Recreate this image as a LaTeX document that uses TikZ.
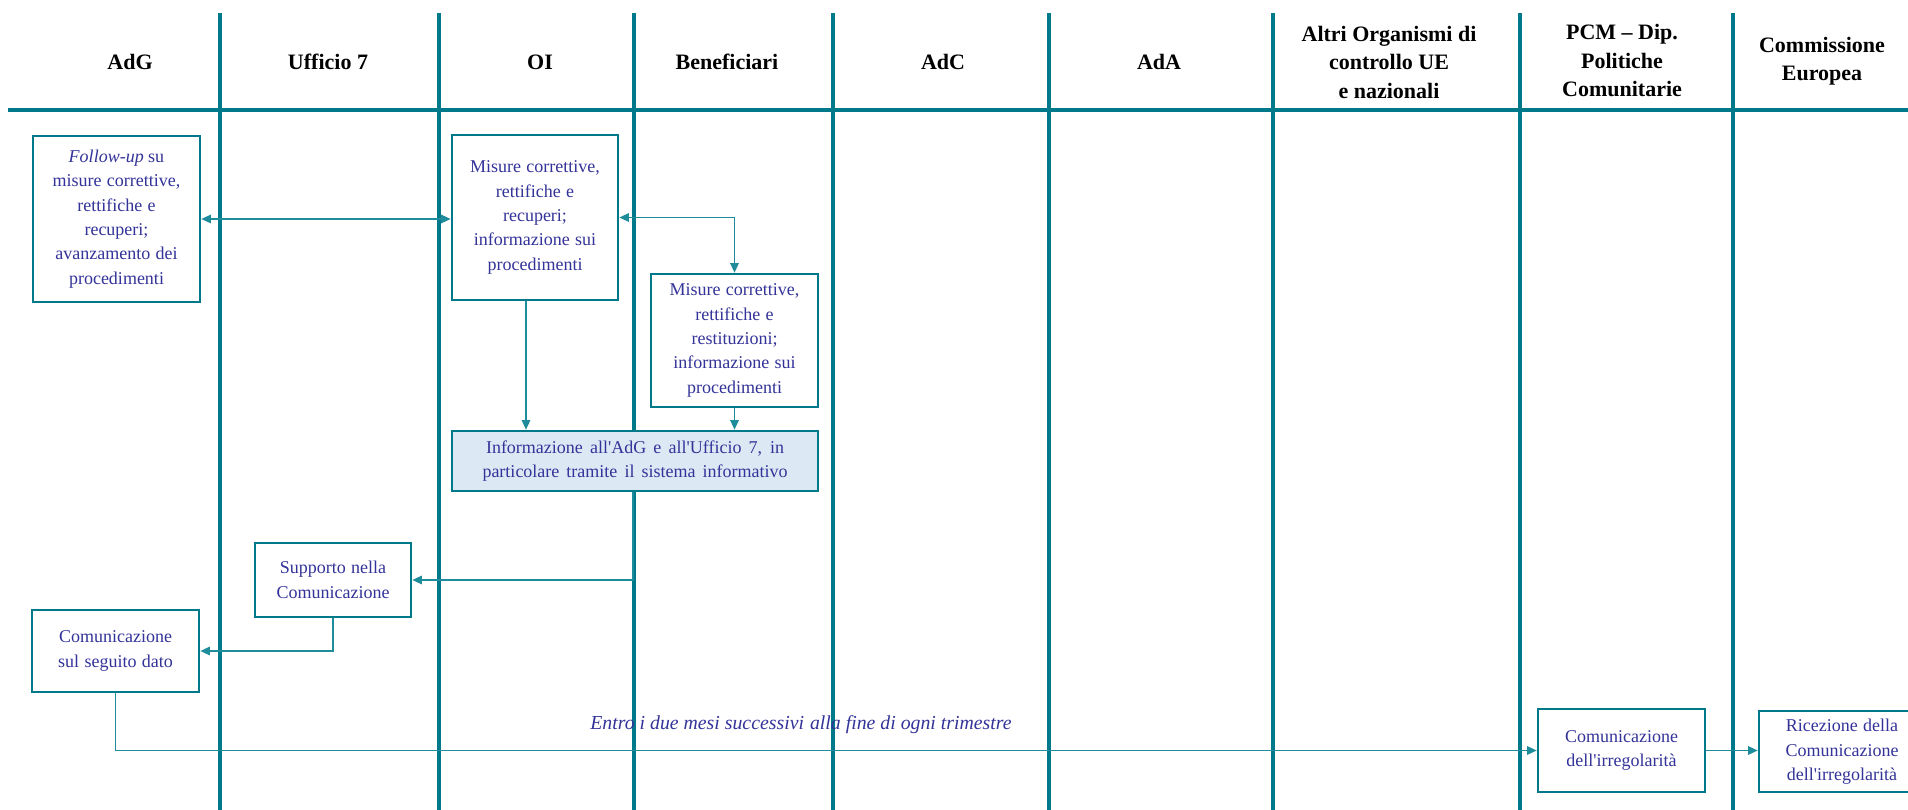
\documentclass[tikz,border=0pt]{standalone}
\usepackage{fontspec}
\setmainfont{Liberation Serif}[Ligatures=TeXOff]
\usetikzlibrary{arrows.meta}
\definecolor{lane}{RGB}{0,122,138}
\definecolor{conncol}{RGB}{30,140,155}
\definecolor{txt}{RGB}{51,51,153}
\definecolor{infofill}{RGB}{220,233,244}
\newcommand{\ws}{\hspace{0.3em}}
\begin{document}
\begin{tikzpicture}[x=1pt,y=-1pt,
  lanestyle/.style={draw=lane,line width=3.1pt},
  hdr/.style={font=\fontsize{22}{28.5}\selectfont\bfseries,align=center,text=black,inner sep=0pt},
  boxstyle/.style={draw=lane,line width=2.7pt,fill=white,text=txt,align=center,
    font=\fontsize{18}{24.4}\selectfont,inner sep=0pt,anchor=center},
  tip/.tip={Triangle[length=9.5pt,width=8.5pt]},
  conn/.style={draw=conncol,line width=1.4pt,-tip},
  bconn/.style={draw=conncol,line width=1.4pt,tip-tip},
  lbl/.style={text=txt,font=\fontsize{19.8}{24}\selectfont\itshape,inner sep=0pt}
]
\useasboundingbox (0,0) rectangle (1908,810);
\clip (0,0) rectangle (1908,810);
\fill[white] (0,0) rectangle (1908,810);

% lanes
\foreach \xx in {220,439,634,833,1049,1273,1520,1733}{
  \draw[lanestyle] (\xx,13) -- (\xx,810);
}
\draw[lanestyle] (8,110) -- (1908,110);

% headers
\node[hdr] (hAdG) at (130,62) {AdG};
\node[hdr] (hUff) at (328,62) {Ufficio 7};
\node[hdr] (hOI) at (540,62) {OI};
\node[hdr] (hBen) at (727,62) {Beneficiari};
\node[hdr] (hAdC) at (943,62) {AdC};
\node[hdr] (hAdA) at (1159,62) {AdA};
\node[hdr] (hAltri) at (1389,62) {Altri Organismi di\\controllo UE\\e nazionali};
\node[hdr] (hPCM) at (1622,61) {PCM – Dip.\\Politiche\\Comunitarie};
\node[hdr] (hCE) at (1822,61) {Commissione\\Europea};

% boxes
\node[boxstyle,minimum width=167pt,minimum height=166pt] (fu) at (116.5,219)
  {\textit{Follow-up} su\\misure\ws correttive,\\rettifiche\ws e\\recuperi;\\avanzamento\ws dei\\procedimenti};
\node[boxstyle,minimum width=166pt,minimum height=165pt] (oi) at (535,217.5)
  {Misure\ws correttive,\\rettifiche\ws e\\recuperi;\\informazione\ws sui\\procedimenti};
\node[boxstyle,minimum width=167pt,minimum height=133pt] (ben) at (734.5,340.5)
  {Misure\ws correttive,\\rettifiche\ws e\\restituzioni;\\informazione\ws sui\\procedimenti};
\node[boxstyle,fill=infofill,minimum width=366pt,minimum height=60pt] (info) at (635,461)
  {\makebox[298pt][s]{Informazione all'AdG e all'Ufficio 7, in}\\\makebox[305pt][s]{particolare tramite il sistema informativo}};
\node[boxstyle,minimum width=156pt,minimum height=74pt] (sup) at (333,580)
  {Supporto\ws nella\\Comunicazione};
\node[boxstyle,minimum width=167pt,minimum height=82pt] (csd) at (115.5,651)
  {Comunicazione\\sul\ws seguito\ws dato};
\node[boxstyle,minimum width=167pt,minimum height=83pt] (pcm) at (1621.5,750.5)
  {Comunicazione\\dell'irregolarità};
\node[boxstyle,minimum width=200pt,minimum height=81pt] (ric) at (1859,751.5)
  {\begin{tabular}{@{}c@{\hspace{34pt}}}Ricezione\ws della\\Comunicazione\\dell'irregolarità\end{tabular}};

% connectors
\coordinate (oiarr) at (526,0);
\coordinate (ilane) at (633,0);
\draw[bconn] (fu.east) -- (fu.east -| oi.west);
\draw[bconn] (oi.east) -| (ben.north);
\draw[conn] (oi.south -| oiarr) -- (info.north -| oiarr);
\draw[conn] (ben.south) -- (info.north -| ben.south);
\draw[conn] (info.south -| ilane) |- (sup.east);
\draw[conn] (sup.south) |- (csd.east);
\draw[conn] (csd.south) |- (pcm.west);
\draw[conn] (pcm.east) -- (pcm.east -| ric.west);
\node[lbl] (lab) at (801,725) {Entro i due mesi successivi\ws alla fine di ogni trimestre};
\end{tikzpicture}
\end{document}
